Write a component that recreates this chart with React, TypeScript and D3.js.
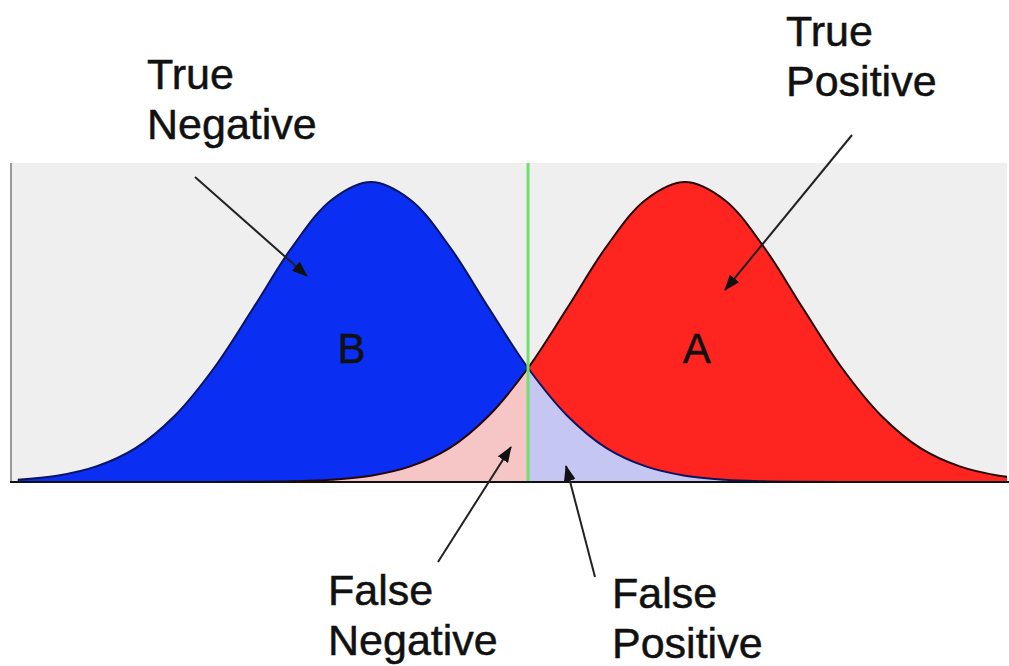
import React from "react";
import * as d3 from "d3";

// score axis, sampled every 4 units
const scores = [0, 4, 8, 12, 16, 20, 24, 28, 32, 36, 40, 44, 48, 52, 56, 60, 64, 68, 72, 76, 80, 84, 88, 92, 96, 100, 104];
// distribution B (negatives), relative height
const densityB = [0.0075, 0.021, 0.052, 0.113, 0.221, 0.38, 0.58, 0.785, 0.941, 1, 0.941, 0.785, 0.58, 0.38, 0.221, 0.113, 0.052, 0.021, 0.0075, 0.0024, 0.0007, 0, 0, 0, 0, 0, 0];
// distribution A (positives)
const densityA = [0, 0, 0, 0, 0, 0, 0.0007, 0.0024, 0.0075, 0.021, 0.052, 0.113, 0.221, 0.38, 0.58, 0.785, 0.941, 1, 0.941, 0.785, 0.58, 0.38, 0.221, 0.113, 0.052, 0.021, 0.0075];
const threshold = 52;

const labels = [
  { lines: ["True", "Negative"], x: 147, y: 89, from: [195, 177], to: [307, 276] },
  { lines: ["True", "Positive"], x: 786, y: 46, from: [852, 135], to: [725, 290] },
  { lines: ["False", "Negative"], x: 328, y: 605, from: [438, 562], to: [511, 447] },
  { lines: ["False", "Positive"], x: 612, y: 608, from: [595, 577], to: [566, 466] },
];

const W = 1009;
const H = 666;
const plot = { left: 10, right: 1007, top: 163, bottom: 482 };

export default function App() {
  const x = d3.scaleLinear().domain([0, 100]).range([17.8, 999]);
  const y = d3.scaleLinear().domain([0, 1]).range([plot.bottom, plot.bottom - 300]);

  const ptsB = scores.map((s, i) => ({ s, v: densityB[i] }));
  const ptsA = scores.map((s, i) => ({ s, v: densityA[i] }));

  const area = d3
    .area<{ s: number; v: number }>()
    .x((d) => x(d.s))
    .y0(y(0))
    .y1((d) => y(d.v))
    .curve(d3.curveCatmullRom);
  const line = d3
    .line<{ s: number; v: number }>()
    .x((d) => x(d.s))
    .y((d) => y(d.v))
    .curve(d3.curveCatmullRom);

  const font = "'Liberation Sans', Arial, Helvetica, sans-serif";

  return (
    <svg width={W} height={H} style={{ position: "absolute", left: 0, top: 0, background: "#fff" }}>
      <defs>
        <marker id="head" viewBox="0 0 16 12" refX="15" refY="6" markerWidth="16" markerHeight="12"
          markerUnits="userSpaceOnUse" orient="auto">
          <path d="M0,0 L16,6 L0,12 Z" fill="#111" />
        </marker>
        <clipPath id="plotClip">
          <rect x={plot.left} y={plot.top} width={plot.right - plot.left} height={plot.bottom - plot.top} />
        </clipPath>
      </defs>

      <rect x={plot.left} y={plot.top} width={plot.right - plot.left} height={plot.bottom - plot.top} fill="#efefef" />

      <g clipPath="url(#plotClip)">
        <path d={area(ptsB) ?? ""} fill="#0a2ff2" />
        <path d={area(ptsA) ?? ""} fill="#fe2420" />
        <path d={area(ptsA.filter((d) => d.s <= threshold)) ?? ""} fill="#f6c6c6" />
        <path d={area(ptsB.filter((d) => d.s >= threshold)) ?? ""} fill="#c6c6f2" />
        <path d={line(ptsB) ?? ""} fill="none" stroke="#0a1460" strokeWidth={2} />
        <path d={line(ptsA) ?? ""} fill="none" stroke="#2a0505" strokeWidth={2} />
      </g>

      <line x1={x(threshold)} x2={x(threshold)} y1={plot.top} y2={plot.bottom} stroke="#6ee06e" strokeWidth={3} />

      <line x1={plot.left + 1} x2={plot.left + 1} y1={plot.top} y2={plot.bottom} stroke="#999" strokeWidth={2} />
      <line x1={plot.left} x2={W} y1={plot.bottom} y2={plot.bottom} stroke="#111" strokeWidth={2} />

      <text x={x(34)} y={363} fontFamily={font} fontSize={42} fill="#111" stroke="#111" strokeWidth={0.5}
        textAnchor="middle">B</text>
      <text x={x(69.2)} y={363} fontFamily={font} fontSize={42} fill="#111" stroke="#111" strokeWidth={0.5}
        textAnchor="middle">A</text>

      {labels.map((l, i) => (
        <g key={i}>
          <text x={l.x} y={l.y} fontFamily={font} fontSize={43} fill="#111" stroke="#111" strokeWidth={0.5}>
            {l.lines.map((t, j) => (
              <tspan key={j} x={l.x} dy={j === 0 ? 0 : 50}>{t}</tspan>
            ))}
          </text>
          <line x1={l.from[0]} y1={l.from[1]} x2={l.to[0]} y2={l.to[1]} stroke="#222" strokeWidth={2}
            markerEnd="url(#head)" />
        </g>
      ))}
    </svg>
  );
}
